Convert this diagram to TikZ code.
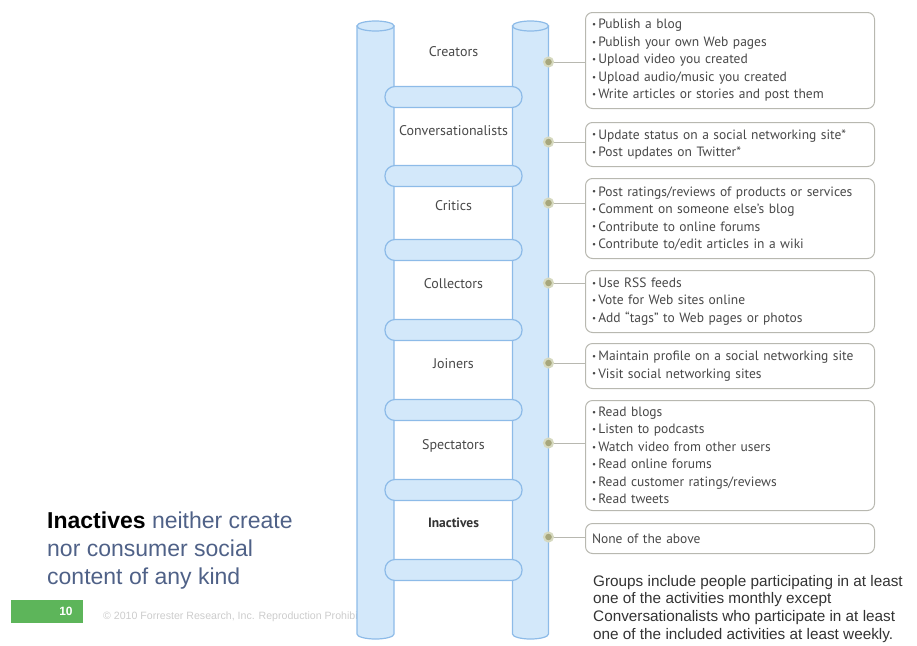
\documentclass[tikz,border=0pt]{standalone}
\usepackage{fontspec}
\setmainfont{Liberation Sans}
\newfontfamily\carl{PT Sans}
\definecolor{polefill}{HTML}{D3E8FA}
\definecolor{poleline}{HTML}{8DBBE8}
\definecolor{boxline}{HTML}{B8B8B0}
\definecolor{boxtext}{HTML}{484848}
\definecolor{dotfill}{HTML}{A6A67C}
\definecolor{dotring}{HTML}{D6D9BF}
\definecolor{slate}{HTML}{4F6187}
\definecolor{pagegreen}{HTML}{5DB55A}
\begin{document}
\begin{tikzpicture}[x=1pt,y=-1pt,
  pole/.style={fill=polefill,draw=poleline,line width=1.2pt},
  rung/.style={fill=polefill,draw=poleline,line width=1.2pt,rounded corners=10pt,minimum width=137pt,minimum height=21pt,inner sep=0pt},
  tier/.style={font=\carl\fontsize{14}{16}\selectfont,text=boxtext},
  dotn/.style={circle,fill=dotfill,draw=dotring,line width=2pt,minimum size=9pt,inner sep=0pt},
  conn/.style={draw=boxline,line width=1pt},
  actbox/.style={draw=boxline,line width=1pt,rounded corners=7pt,fill=white,anchor=north west,
    minimum width=288pt,text width=276pt,align=left,inner xsep=6.5pt,inner ysep=2pt,
    font=\carl\fontsize{13.5}{17.5}\selectfont,text=boxtext}]
\useasboundingbox (0,0) rectangle (917,645);
% copyright text (partly hidden by pole)
\node[anchor=west,text=black!20,font=\fontsize{10.6}{12}\selectfont,inner sep=0pt] (copy) at (103,617) {© 2010 Forrester Research, Inc. Reproduction Prohibited};
% poles
\draw[pole] (357,26) -- (357,634) arc[start angle=180,end angle=360,x radius=18.5pt,y radius=5pt] -- (394,26) -- cycle;
\draw[pole] (375.5,26) ellipse[x radius=18.5pt,y radius=5pt];
\draw[pole] (512.5,26) -- (512.5,634) arc[start angle=180,end angle=360,x radius=18pt,y radius=5pt] -- (548.5,26) -- cycle;
\draw[pole] (530.5,26) ellipse[x radius=18pt,y radius=5pt];
% rungs
\foreach \y [count=\i] in {97,176,250,330,410,490,570}
  \node[rung] (r\i) at (453.5,\y) {};
% tier labels
\node[tier] (t1) at (453.5,52) {Creators};
\node[tier] (t2) at (453.5,131) {Conversationalists};
\node[tier] (t3) at (453.5,206) {Critics};
\node[tier] (t4) at (453.5,284) {Collectors};
\node[tier] (t5) at (453.5,364) {Joiners};
\node[tier] (t6) at (453.5,446) {Spectators};
\node[tier,font=\carl\bfseries\fontsize{13.5}{16}\selectfont,text=black!80] (t7) at (453.5,523) {Inactives};
% activity boxes
\newcommand{\bl}{{\fontsize{9}{10}\selectfont\raisebox{0.15em}{•}}\,}
\node[actbox,minimum height=96pt] (b1) at (585,12) {\bl Publish a blog\\\bl Publish your own Web pages\\\bl Upload video you created\\\bl Upload audio/music you created\\\bl Write articles or stories and post them};
\node[actbox,minimum height=44pt] (b2) at (585,122) {\bl Update status on a social networking site*\\\bl Post updates on Twitter*};
\node[actbox,minimum height=80pt] (b3) at (585,178) {\bl Post ratings/reviews of products or services\\\bl Comment on someone else’s blog\\\bl Contribute to online forums\\\bl Contribute to/edit articles in a wiki};
\node[actbox,minimum height=62pt] (b4) at (585,270) {\bl Use RSS feeds\\\bl Vote for Web sites online\\\bl Add “tags” to Web pages or photos};
\node[actbox,minimum height=45pt] (b5) at (585,343) {\bl Maintain profile on a social networking site\\\bl Visit social networking sites};
\node[actbox,minimum height=110pt] (b6) at (585,400) {\bl Read blogs\\\bl Listen to podcasts\\\bl Watch video from other users\\\bl Read online forums\\\bl Read customer ratings/reviews\\\bl Read tweets};
\node[actbox,minimum height=30pt] (b7) at (585,523) {None of the above};
% dots and connectors
\foreach \y [count=\i] in {62,142,203,283,363,443,537}
  \coordinate (c\i) at (548.5,\y);
\foreach \i in {1,...,7}
  \draw[conn] (c\i) -- (c\i -| b\i.west);
\foreach \i in {1,...,7}
  \node[dotn] (d\i) at (c\i) {};
% footnote
\node[anchor=north west,align=left,inner sep=0pt,text=black!80,font=\fontsize{15.3}{17.7}\selectfont] (note) at (593,575) {Groups include people participating in at least\\one of the activities monthly except\\Conversationalists who participate in at least\\one of the included activities at least weekly.};
% left description
\node[anchor=north west,align=left,inner sep=0pt,text=slate,font=\fontsize{23}{28}\selectfont] (desc) at (47,512) {\textbf{\color{black}Inactives} neither create\\nor consumer social\\content of any kind};
% page number
\node[fill=pagegreen,minimum width=72pt,minimum height=23pt,inner sep=0pt,anchor=north west] (pg) at (11,600) {};
\node[text=white,font=\bfseries\fontsize{12}{14}\selectfont,inner sep=0pt] (pgn) at (66,611.5) {10};
\end{tikzpicture}
\end{document}
